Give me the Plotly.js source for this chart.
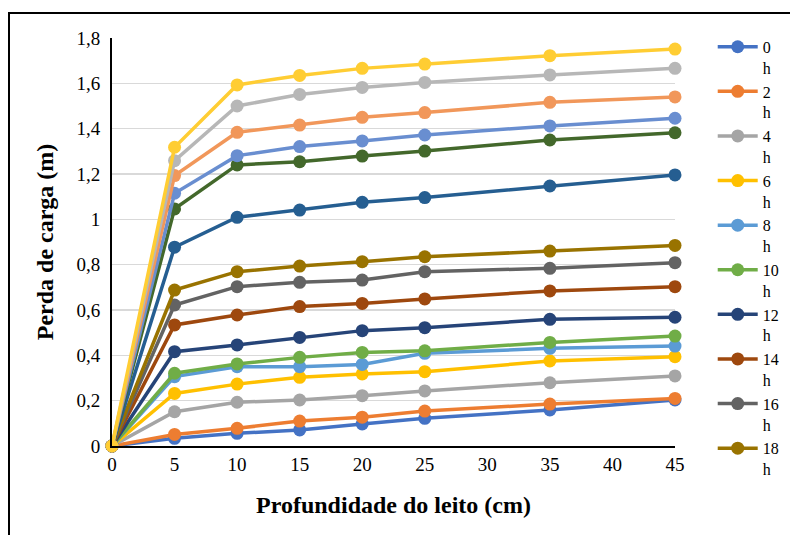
<!DOCTYPE html>
<html>
<head>
<meta charset="utf-8">
<script src="https://cdn.plot.ly/plotly-3.0.1.min.js"></script>
<style>
html,body{margin:0;padding:0;background:#fff;}
#wrap{position:relative;width:790px;height:535px;overflow:hidden;}
#frame{position:absolute;left:8px;top:12px;width:800px;height:540px;border-left:2px solid #000;border-top:2px solid #000;pointer-events:none;z-index:5;}
#chart{position:absolute;left:0;top:0;width:790px;height:535px;}
</style>
</head>
<body>
<div id="wrap"><div id="chart"></div><div id="frame"></div></div>
<script>
const depth = [0, 5, 10, 15, 20, 25, 35, 45];
const seriesNames = ["0 h","2 h","4 h","6 h","8 h","10 h","12 h","14 h","16 h","18 h","20 h","22 h","24 h","26 h","28 h","30 h"];
const h0  = [0, 0.034, 0.056, 0.071, 0.097, 0.122, 0.159, 0.203];
const h2  = [0, 0.051, 0.078, 0.110, 0.127, 0.154, 0.185, 0.210];
const h4  = [0, 0.151, 0.193, 0.203, 0.222, 0.243, 0.279, 0.309];
const h6  = [0, 0.232, 0.273, 0.303, 0.318, 0.328, 0.375, 0.394];
const h8  = [0, 0.306, 0.350, 0.350, 0.360, 0.409, 0.431, 0.441];
const h10 = [0, 0.321, 0.362, 0.391, 0.413, 0.420, 0.457, 0.485];
const h12 = [0, 0.416, 0.446, 0.479, 0.509, 0.522, 0.559, 0.568];
const h14 = [0, 0.534, 0.578, 0.615, 0.629, 0.649, 0.684, 0.703];
const h16 = [0, 0.622, 0.703, 0.722, 0.732, 0.769, 0.784, 0.809];
const h18 = [0, 0.688, 0.769, 0.794, 0.813, 0.835, 0.860, 0.885];
const h20 = [0, 0.877, 1.009, 1.041, 1.075, 1.096, 1.147, 1.196];
const h22 = [0, 1.046, 1.240, 1.254, 1.279, 1.301, 1.350, 1.382];
const h24 = [0, 1.115, 1.281, 1.321, 1.346, 1.372, 1.412, 1.446];
const h26 = [0, 1.193, 1.384, 1.416, 1.450, 1.471, 1.516, 1.540];
const h28 = [0, 1.259, 1.500, 1.551, 1.582, 1.604, 1.637, 1.666];
const h30 = [0, 1.318, 1.593, 1.635, 1.666, 1.685, 1.722, 1.751];
const allSeries = [h0,h2,h4,h6,h8,h10,h12,h14,h16,h18,h20,h22,h24,h26,h28,h30];
const colors = ["#4472C4","#ED7D31","#A5A5A5","#FFC000","#5B9BD5","#70AD47","#264478","#9E480E","#636363","#997300","#255E91","#43682B","#698ED0","#F1975A","#B7B7B7","#FFCD33"];
const legendCount = 10;

const font = "Liberation Serif";
const traces = allSeries.map((vals, i) => ({
  x: depth,
  y: vals,
  type: "scatter",
  mode: "lines+markers",
  name: seriesNames[i].replace(" ", "<br>"),
  legendgroup: "g" + i,
  line: {color: colors[i], width: 3.5},
  marker: {color: colors[i], size: 13},
  showlegend: i < legendCount,
  cliponaxis: false
}));

const layout = {
  width: 790, height: 535,
  margin: {l: 112, r: 115, t: 38, b: 89, autoexpand: false},
  paper_bgcolor: "#fff", plot_bgcolor: "#fff",
  separators: ",.",
  font: {family: font, size: 19, color: "#000"},
  xaxis: {
    range: [0, 45], dtick: 5, tick0: 0,
    showgrid: false, zeroline: false,
    showline: true, linecolor: "#000", linewidth: 2,
    ticks: "", ticklen: 0,
    tickfont: {family: font, size: 19},
    title: {text: "<b>Profundidade do leito (cm)</b>", font: {family: font, size: 24}, standoff: 22}
  },
  yaxis: {
    range: [0, 1.8], dtick: 0.2, tick0: 0,
    showgrid: true, gridcolor: "#D9D9D9", gridwidth: 1.5,
    zeroline: false,
    showline: true, linecolor: "#000", linewidth: 2,
    ticks: "", ticklen: 0,
    ticklabelstandoff: 6,
    tickfont: {family: font, size: 19},
    title: {text: "<b>Perda de carga (m)</b>", font: {family: font, size: 24}, standoff: 16}
  },
  legend: {
    x: 1.067, y: 1.02, xanchor: "left", yanchor: "top",
    font: {family: font, size: 16},
    valign: "top",
    tracegroupgap: 0,
    itemwidth: 40,
    maxheight: 530,
    bgcolor: "rgba(0,0,0,0)"
  }
};

Plotly.newPlot("chart", traces, layout, {displayModeBar: false, staticPlot: true});
</script>
</body>
</html>
